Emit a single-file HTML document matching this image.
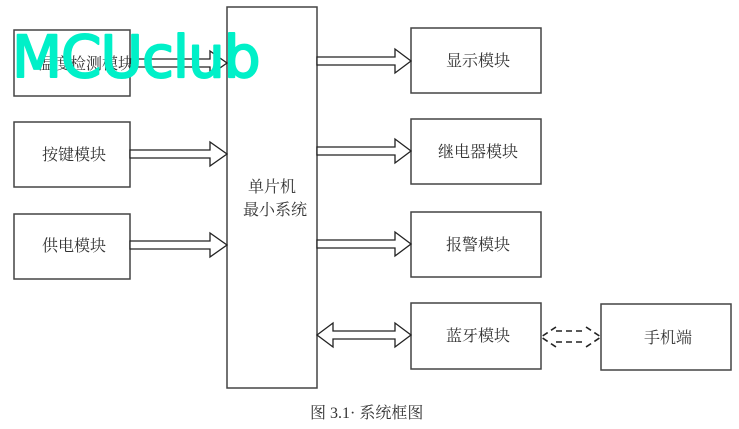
<!DOCTYPE html>
<html><head><meta charset="utf-8"><style>
html,body{margin:0;padding:0;background:#fff;width:739px;height:429px;overflow:hidden}
svg{display:block}
text{font-family:"Liberation Serif","Noto Serif CJK SC",serif;fill:#333;font-size:16px}
</style></head><body>
<svg width="739" height="429" viewBox="0 0 739 429" xmlns="http://www.w3.org/2000/svg">
<g fill="#fff" stroke="#444" stroke-width="1.5">
<rect x="14" y="30" width="116" height="66"/>
<rect x="14" y="122" width="116" height="65"/>
<rect x="14" y="214" width="116" height="65"/>
<rect x="227" y="7" width="90" height="381"/>
<rect x="411" y="28" width="130" height="65"/>
<rect x="411" y="119" width="130" height="65"/>
<rect x="411" y="212" width="130" height="65"/>
<rect x="411" y="303" width="130" height="66"/>
<rect x="601" y="304" width="130" height="66"/>
</g>
<g fill="#fff" stroke="#222" stroke-width="1.3">
<path d="M130 59 H210 V51 L227 63 L210 75 V67 H130 Z"/>
<path d="M130 150 H210 V142 L227 154 L210 166 V158 H130 Z"/>
<path d="M130 241 H210 V233 L227 245 L210 257 V249 H130 Z"/>
<path d="M317 57 H395 V49 L411 61 L395 73 V65 H317 Z"/>
<path d="M317 147 H395 V139 L411 151 L395 163 V155 H317 Z"/>
<path d="M317 240 H395 V232 L411 244 L395 256 V248 H317 Z"/>
<path d="M317 335 L333 323 V331 H395 V323 L411 335 L395 347 V339 H333 V347 Z"/>
</g>
<g fill="none" stroke="#222" stroke-width="1.6" stroke-dasharray="6,4">
<path d="M556 327 L541 337 L556 347"/>
<path d="M586 327 L601 337 L586 347"/>
<path d="M556 331 H586 M556 342 H586"/>
</g>
<text x="38" y="69">温度检测模块</text>
<text x="42" y="160">按键模块</text>
<text x="42" y="251">供电模块</text>
<text x="248" y="192">单片机</text>
<text x="243" y="215">最小系统</text>
<text x="446" y="66">显示模块</text>
<text x="438" y="157">继电器模块</text>
<text x="446" y="250">报警模块</text>
<text x="446" y="341">蓝牙模块</text>
<text x="644" y="343">手机端</text>
<text x="310" y="418" style="font-size:16px">图 3.1· 系统框图</text>
<text x="12" y="77" style="font-family:'DejaVu Sans',sans-serif;font-size:58px;fill:#00f0c8;stroke:#00f0c8;stroke-width:2;stroke-linejoin:round;letter-spacing:-1px">MCUclub</text>
</svg>
</body></html>
